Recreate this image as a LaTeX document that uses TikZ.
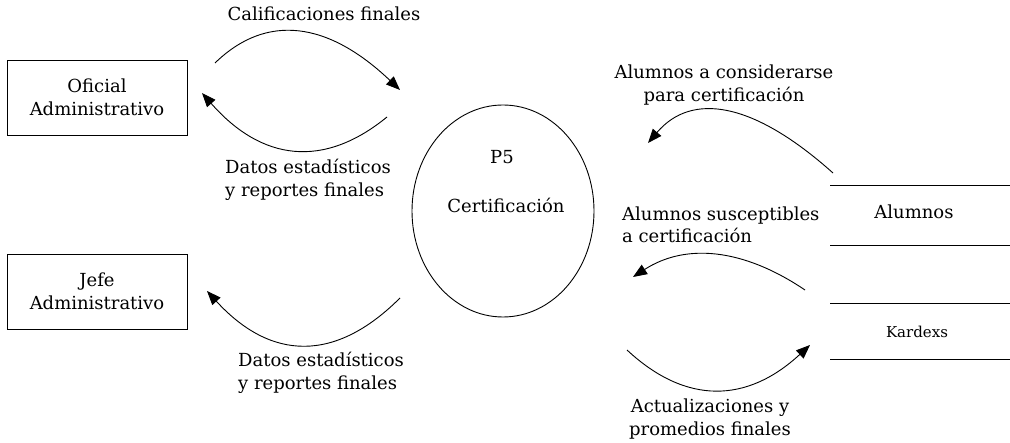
\documentclass[tikz,border=0pt]{standalone}
\usepackage{fontspec}
\setmainfont{DejaVu Serif}
\usetikzlibrary{arrows.meta,shapes.geometric}
\tikzset{
  entity/.style={draw, line width=0.9pt, minimum width=180pt, minimum height=75pt, align=center, font=\fontsize{18}{23}\selectfont},
  lbl/.style={align=center, font=\fontsize{18}{22.5}\selectfont, inner sep=0pt},
  smalllbl/.style={align=center, font=\fontsize{15}{17}\selectfont, inner sep=0pt},
  flow/.style={line width=0.9pt, -{Triangle[length=14pt, width=11pt]}},
  storeline/.style={line width=0.9pt},
}
\begin{document}
\begin{tikzpicture}[x=1pt,y=-1pt]
\useasboundingbox (0,0) rectangle (1010,443);
% entities
\node[entity] (ofi) at (97,97.5) {Oficial\\Administrativo};
\node[entity] (jefe) at (97,291.5) {Jefe\\Administrativo};
% process
\node[draw, ellipse, line width=0.9pt, minimum width=182pt, minimum height=212pt] (p5) at (503,211) {};
\node[lbl] (p5id) at (502,157) {P5};
\node[lbl] (p5n) at (506,205) {Certificación};
% data stores
\coordinate (s1a) at (830,185); \coordinate (s1b) at (1010,185);
\coordinate (s1c) at (830,245); \coordinate (s1d) at (1010,245);
\draw[storeline] (s1a) -- (s1b);
\draw[storeline] (s1c) -- (s1d);
\node[lbl] (alum) at (914,212) {Alumnos};
\coordinate (s2a) at (830,303); \coordinate (s2b) at (1010,303);
\coordinate (s2c) at (830,359); \coordinate (s2d) at (1010,359);
\draw[storeline] (s2a) -- (s2b);
\draw[storeline] (s2c) -- (s2d);
\node[smalllbl] (kard) at (917,332) {Kardexs};
% flow end points
\coordinate (a1s) at (215,63);  \coordinate (a1e) at (400,90);
\coordinate (a2s) at (387,117); \coordinate (a2e) at (202,93);
\coordinate (a3s) at (400,298); \coordinate (a3e) at (207,291);
\coordinate (a4s) at (833,173); \coordinate (a4e) at (648,143);
\coordinate (a5s) at (805,290); \coordinate (a5e) at (633,277);
\coordinate (a6s) at (627,350); \coordinate (a6e) at (810,345);
% flows
\draw[flow] (a1s) .. controls (266.7,12.7) and (328.3,21.7) .. (a1e);
\draw[flow] (a2s) .. controls (323.3,169) and (261.7,161) .. (a2e);
\draw[flow] (a3s) .. controls (335,363) and (270.7,360.7) .. (a3e);
\draw[flow] (a4s) .. controls (753.3,101.7) and (691.7,91.7) .. (a4e);
\draw[flow] (a5s) .. controls (742.3,247.7) and (685,243.3) .. (a5e);
\draw[flow] (a6s) .. controls (686,405) and (747,403.3) .. (a6e);
% labels
\node[lbl] (l1) at (324,14) {Calificaciones finales};
\node[lbl, align=left, anchor=west] (l2) at (225,180) {Datos estadísticos\\y reportes finales};
\node[lbl, align=left, anchor=west] (l3) at (238,373) {Datos estadísticos\\y reportes finales};
\node[lbl] (l4) at (724,85) {Alumnos a considerarse\\para certificación};
\node[lbl, align=left, anchor=west] (l5) at (622,225) {Alumnos susceptibles\\a certificación};
\node[lbl] (l6) at (710,419) {Actualizaciones y\\promedios finales};
\end{tikzpicture}
\end{document}
